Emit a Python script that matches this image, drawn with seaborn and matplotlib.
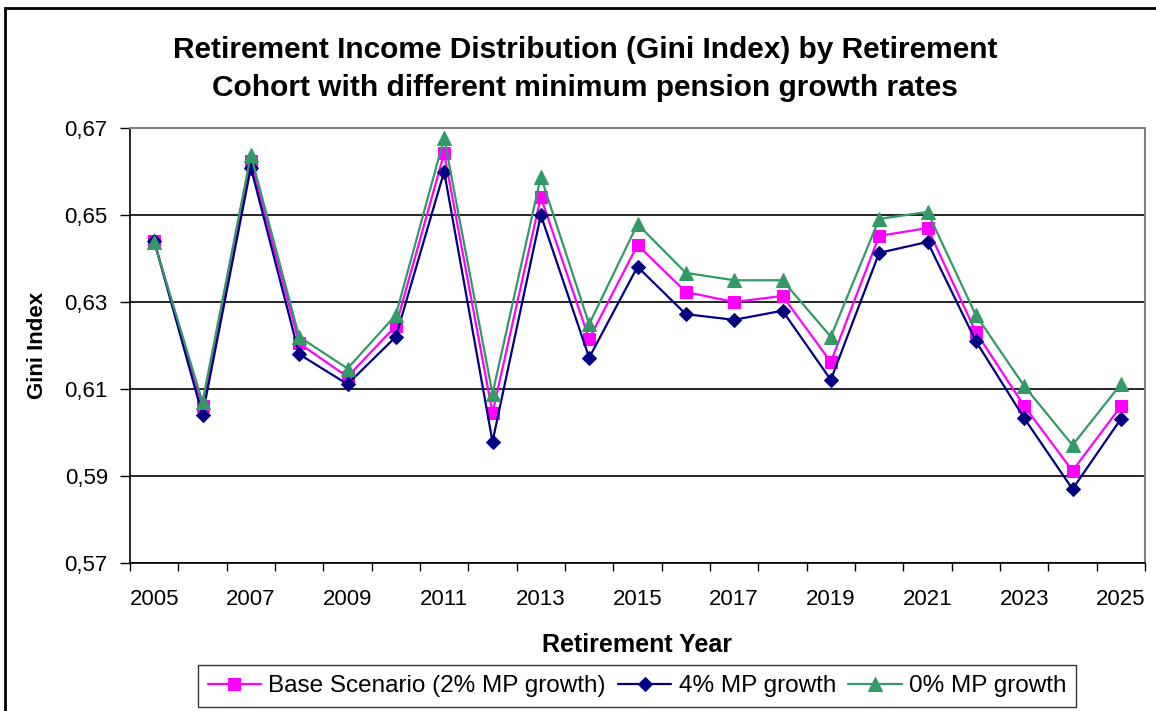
import matplotlib
matplotlib.use("Agg")
import matplotlib.pyplot as plt
import matplotlib.patches as mpatches
import matplotlib.ticker as mticker
import numpy as np
import pandas as pd
import seaborn as sns

years = list(range(2005, 2026))
base_2pct = [0.644, 0.6060, 0.6623, 0.6205, 0.6128, 0.6245, 0.6642, 0.6045, 0.6541, 0.6215,
             0.6431, 0.6323, 0.6300, 0.6314, 0.6162, 0.6452, 0.6470, 0.6231, 0.6061, 0.5912, 0.6060]
mp_4pct = [0.644, 0.6040, 0.6609, 0.6180, 0.6111, 0.6220, 0.6600, 0.5979, 0.6500, 0.6172,
           0.6381, 0.6272, 0.6259, 0.6280, 0.6121, 0.6413, 0.6438, 0.6210, 0.6033, 0.5870, 0.6031]
mp_0pct = [0.6437, 0.6070, 0.6638, 0.6220, 0.6147, 0.6270, 0.6677, 0.6089, 0.6588, 0.6249,
           0.6479, 0.6367, 0.6350, 0.6350, 0.6220, 0.6491, 0.6507, 0.6270, 0.6107, 0.5971, 0.6111]
series_names = ["Base Scenario (2% MP growth)", "4% MP growth", "0% MP growth"]
y_ticks = [0.57, 0.59, 0.61, 0.63, 0.65, 0.67]

sns.set_theme(style="white")
plt.rcParams['font.family'] = ['Liberation Sans', 'DejaVu Sans']
plt.rcParams['text.color'] = 'black'
plt.rcParams['axes.labelcolor'] = 'black'
plt.rcParams['xtick.color'] = 'black'
plt.rcParams['ytick.color'] = 'black'

fig = plt.figure(figsize=(11.56, 7.11), dpi=100)
W, H = 1156, 711
ax = fig.add_axes([130 / W, 1 - 563 / H, (1145 - 130) / W, (563 - 128) / H])

colors = ["#FF00FF", "#000080", "#339966"]
markers = ["s", "D", "^"]
msizes = [8.5, 7, 9.5]
for vals, name, c, m, ms in zip([base_2pct, mp_4pct, mp_0pct], series_names, colors, markers, msizes):
    df = pd.DataFrame({"year": years, "gini": vals})
    sns.lineplot(data=df, x="year", y="gini", ax=ax, color=c, marker=m, markersize=ms,
                 markeredgecolor=c, linewidth=1.6, label=name)

ax.set_xlim(2004.5, 2025.5)
ax.set_ylim(0.57, 0.67)
ax.set_yticks(y_ticks)
ax.yaxis.set_major_formatter(mticker.FuncFormatter(lambda v, p: f"{v:.2f}".replace(".", ",")))
ax.yaxis.grid(True, color="black", linewidth=1.2)
ax.set_axisbelow(True)

# x ticks: labels at every other year, tick marks at category boundaries
ax.set_xticks(years[::2])
ax.set_xticklabels([str(y) for y in years[::2]])
ax.xaxis.set_minor_locator(mticker.FixedLocator(np.arange(2004.5, 2026, 1.0)))
ax.tick_params(axis="x", which="major", length=0, labelsize=16, pad=19, colors="black")
ax.tick_params(axis="x", which="minor", length=6, width=1, color="black", direction="out", bottom=True)
ax.tick_params(axis="y", which="major", length=7, width=1, color="black", direction="out", left=True,
               labelsize=16, pad=9)

for s in ["left", "bottom"]:
    ax.spines[s].set_color("black")
    ax.spines[s].set_linewidth(1.2)
for s in ["top", "right"]:
    ax.spines[s].set_color("#808080")
    ax.spines[s].set_linewidth(1.5)

ax.set_xlabel("Retirement Year", fontsize=18, fontweight="bold", labelpad=16)
ax.set_ylabel("Gini Index", fontsize=16, fontweight="bold", labelpad=12)

fig.text(585 / W, 1 - 69 / H, "Retirement Income Distribution (Gini Index) by Retirement\nCohort with different minimum pension growth rates",
         ha="center", va="center", fontsize=21.5, fontweight="bold", linespacing=1.45)

leg = ax.legend(loc="center", bbox_to_anchor=(637 / W, 1 - 686 / H), bbox_transform=fig.transFigure,
                ncol=3, fontsize=17.5, frameon=True, fancybox=False, edgecolor="black",
                handlelength=2.2, handletextpad=0.3, columnspacing=0.5, borderpad=0.4)
leg.get_frame().set_linewidth(1.0)

# outer chart border
fig.patches.append(mpatches.Rectangle((5 / W, -0.05), 1.1, 1 - 8 / H + 0.05, transform=fig.transFigure,
                                      fill=False, edgecolor="black", linewidth=2))

fig.savefig("out.png", dpi=100, facecolor="white")
